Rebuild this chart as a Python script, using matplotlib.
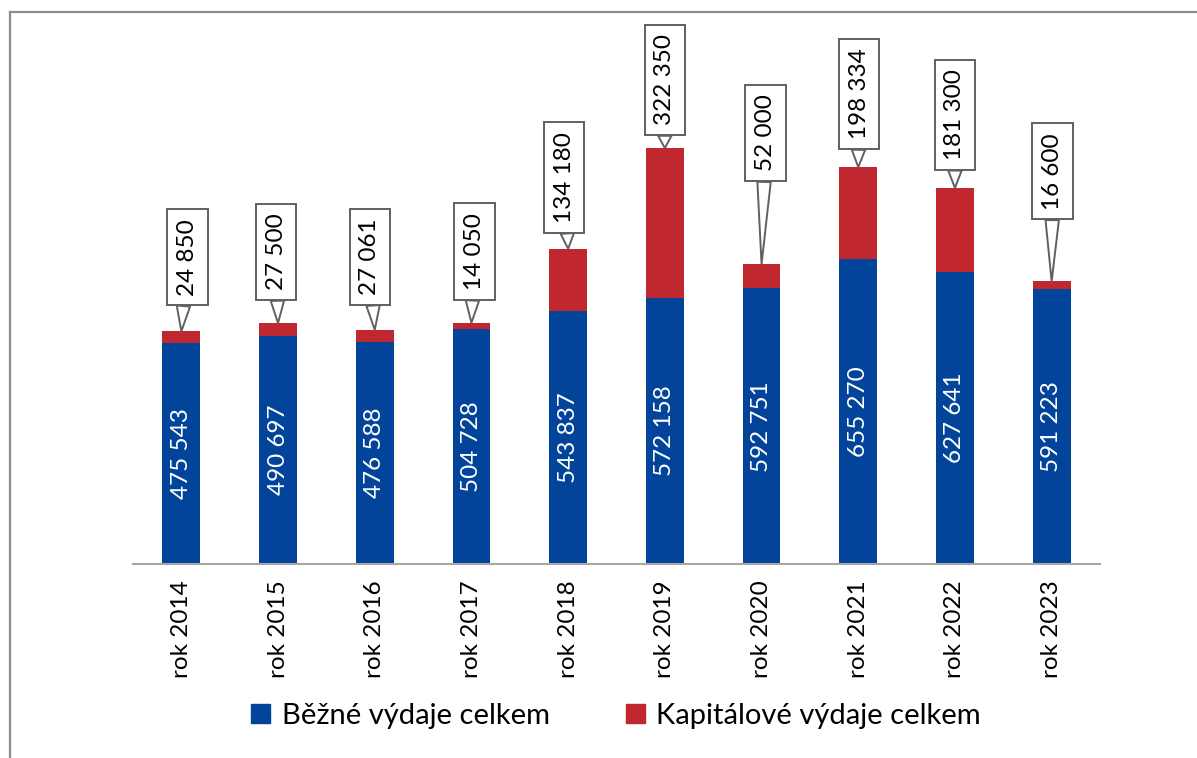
import matplotlib
matplotlib.use("Agg")
import matplotlib.pyplot as plt
from matplotlib.lines import Line2D
from matplotlib.patches import Patch

# data
years = ["rok 2014", "rok 2015", "rok 2016", "rok 2017", "rok 2018",
         "rok 2019", "rok 2020", "rok 2021", "rok 2022", "rok 2023"]
bezne = [475543, 490697, 476588, 504728, 543837,
         572158, 592751, 655270, 627641, 591223]
kapitalove = [24850, 27500, 27061, 14050, 134180,
              322350, 52000, 198334, 181300, 16600]

# callout layout (pixel offsets of the label box from the bar top)
call_dx = [6, -2, -5, 3, -4, 0, 4, 1, 0, 1]
call_gap = [26, 23, 25, 23, 16, 13, 83, 18, 18, 62]

blue = "#02449A"
red = "#C0272F"
fs = 17.5

plt.rcParams['font.family'] = ['Lato', 'DejaVu Sans']

W, H = 1197, 758
fig = plt.figure(figsize=(W / 100, H / 100), dpi=100)
ax = fig.add_axes([133 / W, 1 - 564 / H, (1100 - 133) / W, (564 - 20) / H])

x = list(range(len(years)))
ax.bar(x, bezne, width=0.39, color=blue, zorder=2)
ax.bar(x, kapitalove, width=0.39, bottom=bezne, color=red, zorder=2)

ax.set_xlim(-0.5, len(years) - 0.5)
ax.set_ylim(0, 1.17e6)
ax.set_yticks([])
ax.set_xticks(x)
ax.set_xticklabels(years, rotation=90, fontsize=fs)
ax.tick_params(axis='x', length=0, pad=12)
for s in ['top', 'left', 'right']:
    ax.spines[s].set_visible(False)
ax.spines['bottom'].set_color('#A6A6A6')
ax.spines['bottom'].set_linewidth(1.5)

def fmt(v):
    return "{:,}".format(v).replace(",", " ")

pad = 0.4
pad_px = pad * fs * 100 / 72
for i in x:
    # value inside blue part
    ax.text(i, bezne[i] / 2, fmt(bezne[i]), rotation=90, ha='center', va='center',
            color='white', fontsize=fs, zorder=3)
    # callout for red part
    top = bezne[i] + kapitalove[i]
    ax.annotate(fmt(kapitalove[i]), xy=(i, top), xycoords='data',
                xytext=(call_dx[i], call_gap[i] + pad_px), textcoords='offset pixels',
                rotation=90, ha='center', va='bottom', fontsize=fs, color='black',
                bbox=dict(boxstyle='square,pad=%.2f' % pad, fc='white', ec='#606060', lw=1.4),
                arrowprops=dict(arrowstyle='wedge,tail_width=0.55', fc='white',
                                ec='#606060', lw=1.4, shrinkA=0, shrinkB=0),
                zorder=4)

handles = [Patch(color=blue), Patch(color=red)]
fig.legend(handles, ["Běžné výdaje celkem", "Kapitálové výdaje celkem"],
           loc='center', bbox_to_anchor=(616 / W, 1 - 716 / H), ncol=2, frameon=False,
           fontsize=21, handlelength=0.65, handleheight=0.65, handletextpad=0.4,
           columnspacing=2.6)

# outer frame (only top and left edges visible in the crop)
fig.add_artist(Line2D([10 / W, 10 / W], [0, 1 - 12 / H], color='#8C8C8C', lw=1.6))
fig.add_artist(Line2D([10 / W, 1], [1 - 12 / H, 1 - 12 / H], color='#8C8C8C', lw=1.6))

fig.savefig("out.png", dpi=100)
